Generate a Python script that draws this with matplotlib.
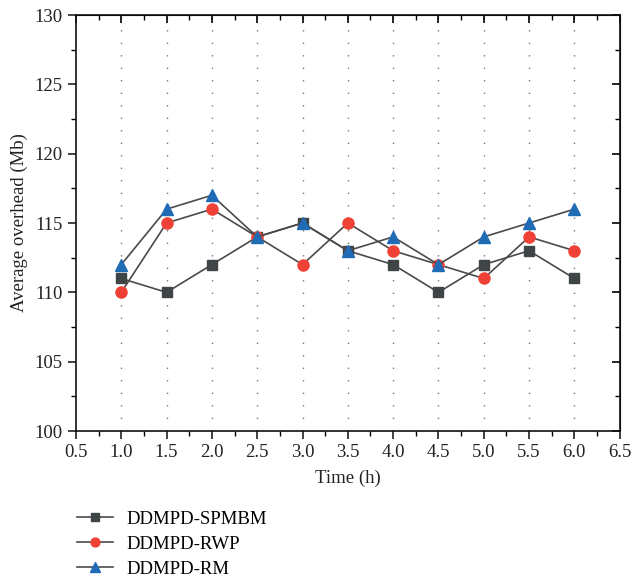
import matplotlib
matplotlib.use("Agg")
import matplotlib.pyplot as plt
from matplotlib.ticker import MultipleLocator

plt.rcParams['font.family'] = ['Liberation Serif', 'DejaVu Serif']

time_h = [1.0, 1.5, 2.0, 2.5, 3.0, 3.5, 4.0, 4.5, 5.0, 5.5, 6.0]
spmbm = [111, 110, 112, 114, 115, 113, 112, 110, 112, 113, 111]
rwp = [110, 115, 116, 114, 112, 115, 113, 112, 111, 114, 113]
rm = [112, 116, 117, 114, 115, 113, 114, 112, 114, 115, 116]

FS = 13.5

fig = plt.figure(figsize=(6.33, 5.77), dpi=100)
ax = fig.add_axes([0.12, 0.253, 0.859, 0.721])

# dotted vertical guides at each sample time
for x in time_h:
    ax.axvline(x, color="#777777", linestyle=(0, (1, 8)), linewidth=1.0, zorder=0)

ax.plot(time_h, spmbm, color="#4a4a4a", linewidth=1.2, marker="s", markersize=7,
        markerfacecolor="#3f4447", markeredgecolor="#3f4447", label="DDMPD-SPMBM")
ax.plot(time_h, rwp, color="#4a4a4a", linewidth=1.2, marker="o", markersize=8,
        markerfacecolor="#ef4136", markeredgecolor="#ef4136", label="DDMPD-RWP")
ax.plot(time_h, rm, color="#4a4a4a", linewidth=1.2, marker="^", markersize=9,
        markerfacecolor="#1f6bb5", markeredgecolor="#1f6bb5", label="DDMPD-RM")

ax.set_xlim(0.5, 6.5)
ax.set_ylim(100, 130)
ax.xaxis.set_major_locator(MultipleLocator(0.5))
ax.xaxis.set_minor_locator(MultipleLocator(0.25))
ax.yaxis.set_major_locator(MultipleLocator(5))
ax.yaxis.set_minor_locator(MultipleLocator(2.5))
ax.set_xticklabels([f"{v:.1f}" for v in ax.get_xticks()])

ax.tick_params(axis="both", which="major", labelsize=FS, length=6, width=1.2,
               direction="out", color="#222222", labelcolor="#222222")
ax.tick_params(axis="both", which="minor", length=3.5, width=1.0, direction="out")
for spine in ax.spines.values():
    spine.set_linewidth(1.2)
    spine.set_color("#111111")

# inward ticks on top and right
sec_x = ax.secondary_xaxis("top")
sec_x.xaxis.set_major_locator(MultipleLocator(0.5))
sec_x.xaxis.set_minor_locator(MultipleLocator(0.25))
sec_x.tick_params(which="major", direction="in", length=6, width=1.2, labeltop=False)
sec_x.tick_params(which="minor", direction="in", length=3.5, width=1.0)
sec_y = ax.secondary_yaxis("right")
sec_y.yaxis.set_major_locator(MultipleLocator(5))
sec_y.yaxis.set_minor_locator(MultipleLocator(2.5))
sec_y.tick_params(which="major", direction="in", length=6, width=1.2, labelright=False)
sec_y.tick_params(which="minor", direction="in", length=3.5, width=1.0)

ax.set_xlabel("Time (h)", fontsize=FS, color="#222222", labelpad=6)
ax.set_ylabel("Average overhead (Mb)", fontsize=FS, color="#222222", labelpad=5)

fig.legend(loc="upper left", bbox_to_anchor=(0.104, 0.134), frameon=False,
           fontsize=FS, handlelength=1.9, labelspacing=0.42, handletextpad=0.75,
           markerscale=0.8, borderaxespad=0.2)

fig.savefig("out.png", dpi=100)
